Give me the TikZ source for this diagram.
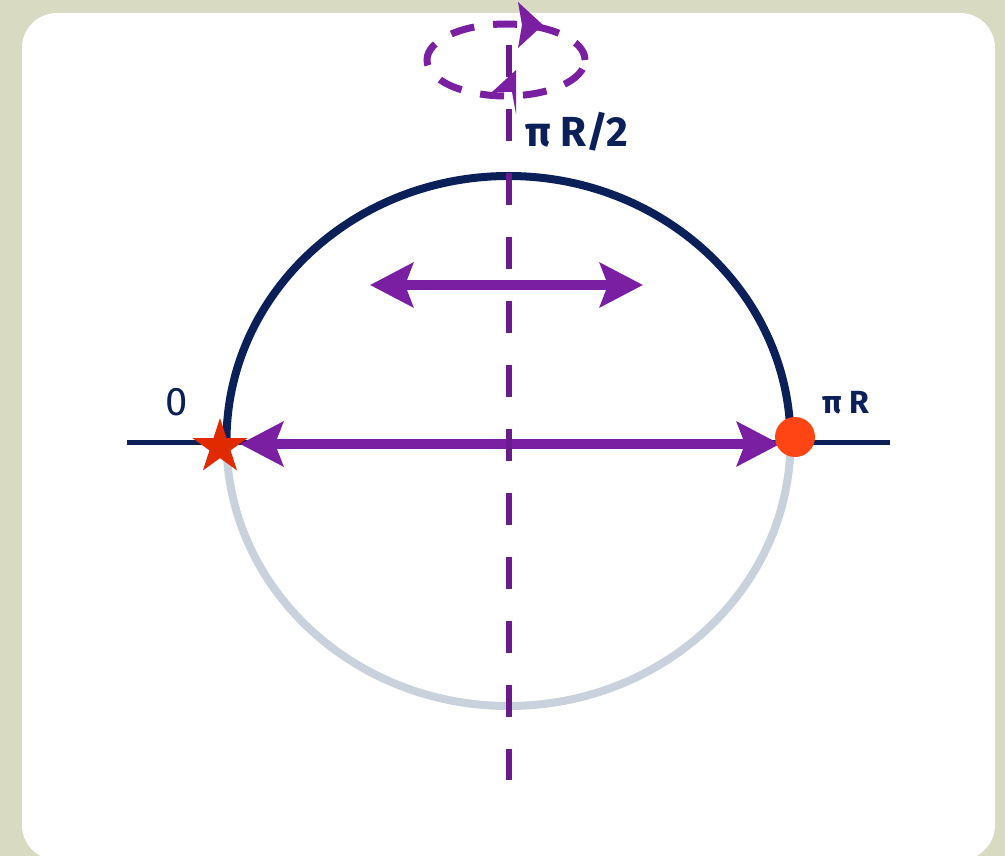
\documentclass[tikz,border=0pt]{standalone}
\usepackage{fontspec}
\setmainfont{Fira Sans}
\usetikzlibrary{arrows.meta,shapes.geometric}
\definecolor{bg}{HTML}{D9DAC2}
\definecolor{navy}{HTML}{0B1F59}
\definecolor{lightarc}{HTML}{C9D1DD}
\definecolor{vio}{HTML}{7B1FA2}
\definecolor{dvio}{HTML}{6A1B8A}
\definecolor{starred}{HTML}{E22A00}
\definecolor{dotred}{HTML}{FF4514}
\begin{document}
\begin{tikzpicture}[x=1pt,y=-1pt,
  bigarrow/.style={vio, line width=10pt, {Stealth[length=43pt,width=44pt,inset=8pt]}-{Stealth[length=43pt,width=44pt,inset=8pt]}},
  arcline/.style={line width=8pt},
  axisdash/.style={dvio, line width=6pt, dash pattern=on 32pt off 32pt},
  spin/.style={vio, line width=7pt, dash pattern=on 24pt off 19pt, dash phase=33.5pt},
  lbl/.style={navy, inner sep=0pt}]
\useasboundingbox (0,0) rectangle (1005,856);
\fill[bg] (0,0) rectangle (1005,856);
\fill[white, rounded corners=35pt] (22,13) rectangle (995,860);
% sphere
\coordinate (W) at (226.5,441);
\draw[arcline, lightarc] (W) arc[start angle=180, end angle=0, x radius=282, y radius=265];
\draw[arcline, navy] (W) arc[start angle=180, end angle=360, x radius=282, y radius=265];
% horizontal line
\coordinate (HL) at (127,442);
\coordinate (HR) at (890,442);
\draw[navy, line width=5pt] (HL) -- (HR);
% arrows
\coordinate (A1) at (240,444);
\coordinate (A2) at (780,444);
\draw[bigarrow] (A1) -- (A2);
\coordinate (B1) at (370,285);
\coordinate (B2) at (643,285);
\draw[bigarrow] (B1) -- (B2);
% vertical axis
\coordinate (VT) at (508.5,45);
\coordinate (VB) at (508.5,780);
\draw[axisdash] (VT) -- (VB);
% spin ellipse
\coordinate (ER) at (585,60);
\draw[spin] (ER) arc[start angle=0, end angle=360, x radius=79, y radius=36];
\fill[vio] (518,2) -- (543,25) -- (518,48) -- (522,25) -- cycle;
\fill[vio] (492,92) -- (516,70) -- (516,114) -- (512,92) -- cycle;
% markers
\node[star, star points=5, star point ratio=2.618, fill=starred, minimum size=58pt, inner sep=0pt] (star) at (220,447) {};
\node[circle, fill=dotred, minimum size=40pt, inner sep=0pt] (dot) at (795,437) {};
% labels
\node[lbl, anchor=base, font=\fontsize{40}{40}\selectfont] (zero) at (177,415) {0};
\node[lbl, anchor=base west, font=\bfseries\fontsize{32}{32}\selectfont] (piR) at (822,413) {π R};
\node[lbl, anchor=base west, font=\bfseries\fontsize{42}{42}\selectfont] (piR2) at (525,147) {π R/2};
\end{tikzpicture}
\end{document}
